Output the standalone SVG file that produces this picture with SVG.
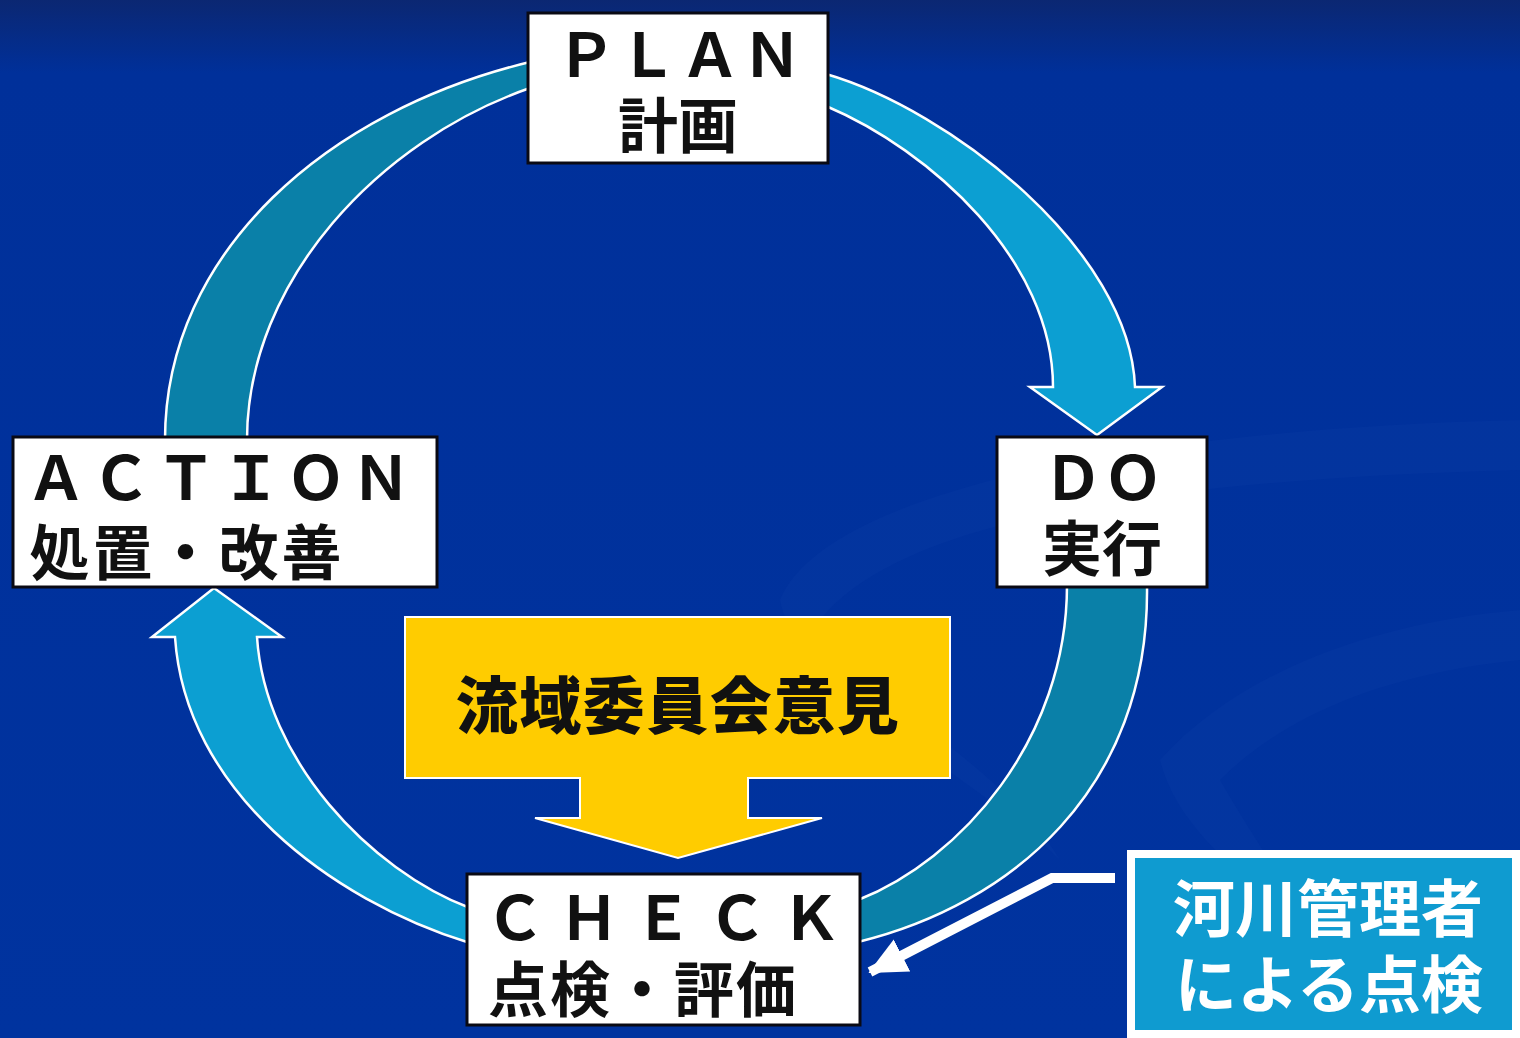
<svg xmlns="http://www.w3.org/2000/svg" width="1520" height="1038" viewBox="0 0 1520 1038">
<defs>
<linearGradient id="bg" x1="0" y1="0" x2="0" y2="1">
<stop offset="0" stop-color="#0b2772"/>
<stop offset="0.07" stop-color="#00309a"/>
<stop offset="1" stop-color="#00339f"/>
</linearGradient>
<marker id="whiteHead" markerUnits="userSpaceOnUse" markerWidth="40" markerHeight="40" viewBox="0 0 40 40" refX="36" refY="20" orient="auto">
<path d="M0,2 L38,20 L0,38 Z" fill="#ffffff"/>
</marker>
<style>
.box{fill:#ffffff;stroke:#0a0a14;stroke-width:3}
.lat{font-family:"Noto Sans CJK JP","Noto Sans",sans-serif;font-weight:700;font-size:60px;fill:#111111;text-anchor:middle}
.jp{font-family:"Noto Sans CJK JP",sans-serif;font-weight:700;font-size:60px;fill:#111111;text-anchor:middle}
.light{fill:#0c9fd2;stroke:#ffffff;stroke-width:2.5}
.dark{fill:#0a80a8;stroke:#ffffff;stroke-width:2.5}
.swoosh{fill:#2a55c0;opacity:0.08}
</style>
</defs>
<rect x="0" y="0" width="1520" height="1038" fill="url(#bg)"/>
<path class="swoosh" d="M780,600 C820,500 1100,430 1520,420 L1520,470 C1150,480 900,520 820,620 C860,700 1000,760 1060,860 C960,760 800,700 780,600 Z"/>
<path class="swoosh" d="M1160,760 C1250,660 1400,620 1520,610 L1520,660 C1420,670 1300,700 1220,780 C1260,850 1300,900 1320,960 C1260,880 1180,840 1160,760 Z"/>

<g id="connectors">
<path id="arc-plan-do" class="light" d="M826,74 C950,110 1130,250 1135,387 L1162,387 L1097,435 L1030,387 L1053,387 C1053,260 930,150 826,106 Z"/>
<path id="arc-action-plan" class="dark" d="M165,440 C165,250 330,110 530,62 L530,88 C380,140 247,280 247,440 Z"/>
<path id="arc-do-check" class="dark" d="M1147,585 C1150,790 1010,905 858,942 L858,900 C960,860 1067,740 1067,585 Z"/>
<path id="arc-check-action" class="light" d="M470,943 C330,900 185,790 175,637 L152,637 L214,588 L282,637 L257,637 C265,760 370,870 470,908 Z"/>
<path id="arrow-river-check" d="M1115,878 L1052,878 L870,972" fill="none" stroke="#ffffff" stroke-width="10" marker-end="url(#whiteHead)"/>
</g>

<g id="committee">
<path d="M405,617 L950,617 L950,778 L748,778 L748,818 L822,818 L678,858 L535,818 L580,818 L580,778 L405,778 Z" fill="#ffcc00" stroke="#ffffff" stroke-width="2"/>
<text class="jp" x="678" y="729" letter-spacing="1.5" style="font-size:62px;font-weight:900">流域委員会意見</text>
</g>

<g id="plan">
<rect class="box" x="528" y="13" width="300" height="150"/>
<text class="lat" x="680" y="77" letter-spacing="2">ＰＬＡＮ</text>
<text class="jp" x="678" y="148">計画</text>
</g>

<g id="do">
<rect class="box" x="997" y="437" width="210" height="150"/>
<text class="lat" x="1103" y="500">ＤＯ</text>
<text class="jp" x="1102" y="571">実行</text>
</g>

<g id="action">
<rect class="box" x="13" y="437" width="424" height="150"/>
<text class="lat" x="221" y="500" letter-spacing="5">ＡＣＴＩＯＮ</text>
<text class="jp" x="187" y="575" letter-spacing="3">処置・改善</text>
</g>

<g id="check">
<rect class="box" x="467" y="874" width="393" height="151"/>
<text class="lat" x="670" y="940" letter-spacing="14">ＣＨＥＣＫ</text>
<text class="jp" x="643" y="1012" letter-spacing="2">点検・評価</text>
</g>

<g id="river-manager">
<rect x="1131" y="854" width="385" height="180" fill="#0f9bd0" stroke="#ffffff" stroke-width="8"/>
<text class="jp" x="1328" y="932" style="fill:#ffffff;font-size:62px">河川管理者</text>
<text class="jp" x="1329" y="1008" style="fill:#ffffff;font-size:62px">による点検</text>
</g>
</svg>
